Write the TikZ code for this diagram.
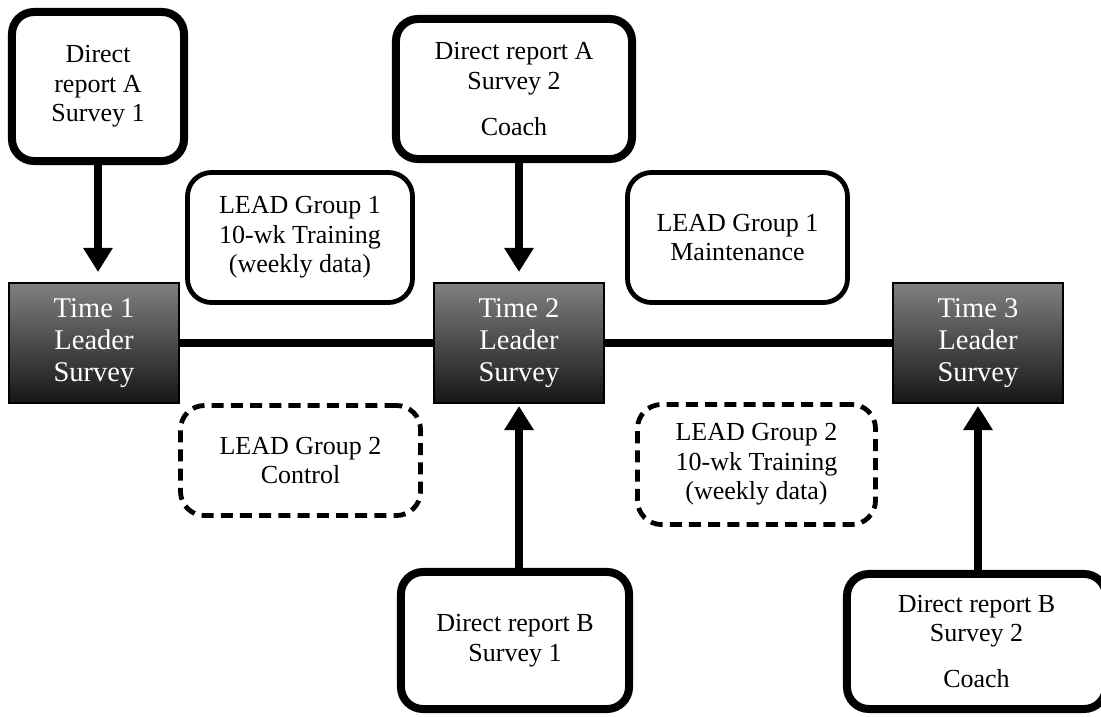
\documentclass[tikz,border=0pt]{standalone}
\usepackage{fontspec}
\setmainfont{Liberation Serif}
\usetikzlibrary{arrows.meta}
\definecolor{surveytop}{RGB}{128,128,128}
\definecolor{surveybottom}{RGB}{22,22,22}
\tikzset{
  report/.style={draw, line width=0.2cm, rounded corners=0.55cm, fill=white,
    align=center, inner sep=0pt, font=\fontsize{18.5}{21}\selectfont},
  lead/.style={draw, line width=0.12cm, rounded corners=0.6cm, fill=white,
    align=center, inner sep=0pt, font=\fontsize{18.5}{21}\selectfont},
  leaddash/.style={lead, dash pattern=on 0.3cm off 0.18cm},
  leader/.style={draw=black, line width=0.05cm, top color=surveytop,
    bottom color=surveybottom, text=white, align=center, inner sep=0pt,
    minimum width=4.25cm, minimum height=3cm, font=\fontsize{20.3}{23}\selectfont},
  feed/.style={line width=0.2cm, -{Triangle[width=0.7cm,length=0.6cm]}},
  link/.style={line width=0.22cm},
}
\begin{document}
\begin{tikzpicture}[x=0.025cm,y=-0.025cm]
  \clip (0,0) rectangle (1101,717);

  % Marking the leader surveys
  \node [leader] (t1) at (94,343) {Time 1\\Leader\\Survey};
  \node [leader] (t2) at (519,343) {Time 2\\Leader\\Survey};
  \node [leader] (t3) at (978,343) {Time 3\\Leader\\Survey};

  % Drawing the time line
  \draw [link] (t1.east) -- (t2.west);
  \draw [link] (t2.east) -- (t3.west);

  % Marking the direct report surveys
  \node [report, minimum width=4.3cm, minimum height=3.725cm] (dra1) at (98,86.5)
    {Direct\\report A\\Survey 1};
  \node [report, minimum width=5.9cm, minimum height=3.5cm] (dra2) at (514,89)
    {Direct report A\\Survey 2\\[11.5pt]Coach};
  \node [report, minimum width=5.7cm, minimum height=3.425cm] (drb1) at (515,640.5)
    {Direct report B\\Survey 1};
  \node [report, minimum width=6.475cm, minimum height=3.375cm] (drb2) at (976.5,641.5)
    {Direct report B\\Survey 2\\[11.5pt]Coach};

  % Marking the LEAD groups
  \node [lead, minimum width=5.625cm, minimum height=3.25cm] (lg1train) at (300,237.5)
    {LEAD Group 1\\10-wk Training\\(weekly data)};
  \node [lead, minimum width=5.5cm, minimum height=3.25cm] (lg1maint) at (737.5,237.5)
    {LEAD Group 1\\Maintenance};
  \node [leaddash, minimum width=6cm, minimum height=2.75cm] (lg2ctrl) at (300.5,460.5)
    {LEAD Group 2\\Control};
  \node [leaddash, minimum width=5.95cm, minimum height=3cm] (lg2train) at (756.5,464.5)
    {LEAD Group 2\\10-wk Training\\(weekly data)};

  % Drawing the survey arrows
  \draw [feed, shorten >=0.25cm] (dra1.south) -- (dra1.south |- t1.north);
  \draw [feed, shorten >=0.25cm] (t2.north |- dra2.south) -- (t2.north);
  \draw [feed, shorten >=0.05cm] (t2.south |- drb1.north) -- (t2.south);
  \draw [feed, shorten >=0.05cm] (t3.south |- drb2.north) -- (t3.south);
\end{tikzpicture}
\end{document}
